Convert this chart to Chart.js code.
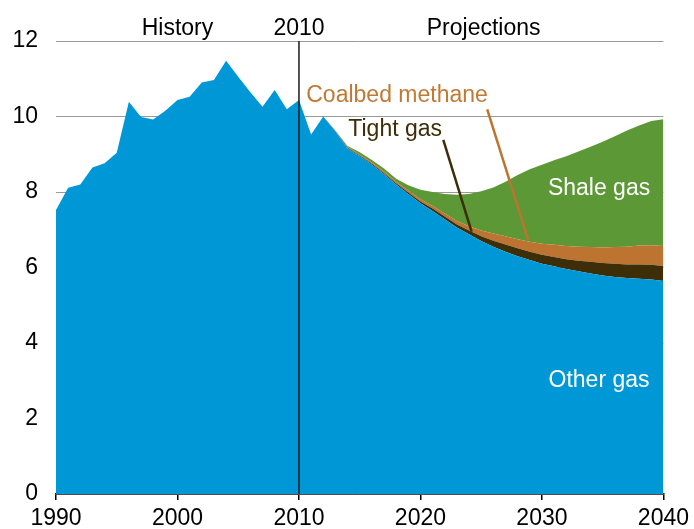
<!DOCTYPE html>
<html>
<head>
<meta charset="utf-8">
<script src="https://cdn.jsdelivr.net/npm/chart.js@4"></script>
<style>
  html, body { margin: 0; padding: 0; background: #fff; }
  #wrap { width: 694px; height: 529px; }
</style>
</head>
<body>
<div id="wrap"><canvas id="gasChart"></canvas></div>
<script>
// History 1990-2010
const historyYears = [1990, 1991, 1992, 1993, 1994, 1995, 1996, 1997, 1998, 1999, 2000,
    2001, 2002, 2003, 2004, 2005, 2006, 2007, 2008, 2009, 2010];
const historyGas = [7.52, 8.11, 8.2, 8.65, 8.76, 9.04, 10.39, 9.99, 9.92, 10.15, 10.44,
    10.52, 10.9, 10.97, 11.48, 11.05, 10.64, 10.26, 10.7, 10.19, 10.44];

// Projections 2011-2040
const projYears = [2011, 2012, 2013, 2014, 2015, 2016, 2017, 2018, 2019, 2020,
    2021, 2022, 2023, 2024, 2025, 2026, 2027, 2028, 2029, 2030,
    2031, 2032, 2033, 2034, 2035, 2036, 2037, 2038, 2039, 2040];
const otherGas = [9.52, 10.0, 9.6, 9.15, 8.95, 8.72, 8.47, 8.2, 7.95, 7.7,
    7.5, 7.28, 7.06, 6.88, 6.7, 6.55, 6.42, 6.3, 6.2, 6.1,
    6.03, 5.96, 5.9, 5.84, 5.79, 5.75, 5.72, 5.7, 5.68, 5.64];
const tightGas = [0, 0, 0.01, 0.02, 0.02, 0.03, 0.03, 0.03, 0.04, 0.05,
    0.06, 0.07, 0.08, 0.1, 0.13, 0.16, 0.19, 0.21, 0.22, 0.24,
    0.25, 0.26, 0.28, 0.31, 0.33, 0.35, 0.36, 0.38, 0.39, 0.4];
const coalbedMethane = [0, 0, 0.01, 0.02, 0.02, 0.03, 0.04, 0.04, 0.05, 0.06,
    0.07, 0.08, 0.09, 0.11, 0.15, 0.19, 0.22, 0.24, 0.26, 0.29,
    0.32, 0.35, 0.37, 0.39, 0.41, 0.44, 0.47, 0.5, 0.52, 0.53];
const shaleGas = [0, 0, 0.01, 0.03, 0.06, 0.07, 0.08, 0.08, 0.14, 0.25,
    0.37, 0.52, 0.7, 0.86, 1.04, 1.22, 1.44, 1.7, 1.92, 2.09,
    2.24, 2.38, 2.52, 2.66, 2.8, 2.94, 3.08, 3.18, 3.29, 3.36];

const yTicks = [0, 2, 4, 6, 8, 10, 12];
const xTicks = [1990, 2000, 2010, 2020, 2030, 2040];

const FONT = 'Liberation Sans, Arial, sans-serif';
const FONT_SIZE = 23;

function points(xs, ys) {
    return xs.map((x, i) => ({ x: x, y: ys[i] }));
}

const otherGasData = points(historyYears.concat(projYears), historyGas.concat(otherGas));

function areaSet(label, data, color, fill) {
    return {
        label: label,
        data: data,
        backgroundColor: color,
        borderWidth: 0,
        pointRadius: 0,
        tension: 0,
        fill: fill
    };
}

// Annotations drawn through the scales
const overlayPlugin = {
    id: 'overlay',
    afterDatasetsDraw(chart) {
        const ctx = chart.ctx;
        const xs = chart.scales.x;
        const ys = chart.scales.y;
        const area = chart.chartArea;
        ctx.save();

        // 2010 divider
        ctx.strokeStyle = '#1a1a1a';
        ctx.lineWidth = 1.5;
        ctx.beginPath();
        ctx.moveTo(xs.getPixelForValue(2010), ys.getPixelForValue(12));
        ctx.lineTo(xs.getPixelForValue(2010), ys.getPixelForValue(0));
        ctx.stroke();

        // leader lines
        ctx.lineWidth = 2.5;
        ctx.strokeStyle = '#BD7430';
        ctx.beginPath();
        ctx.moveTo(xs.getPixelForValue(2025.5), ys.getPixelForValue(10.19));
        ctx.lineTo(xs.getPixelForValue(2028.86), ys.getPixelForValue(6.73));
        ctx.stroke();

        ctx.strokeStyle = '#3D2E08';
        ctx.beginPath();
        ctx.moveTo(xs.getPixelForValue(2021.88), ys.getPixelForValue(9.38));
        ctx.lineTo(xs.getPixelForValue(2024.21), ys.getPixelForValue(6.95));
        ctx.stroke();

        ctx.font = FONT_SIZE + 'px ' + FONT;
        ctx.textBaseline = 'middle';

        // headers above the plot
        ctx.fillStyle = '#000';
        ctx.textAlign = 'center';
        const headY = area.top - 12;
        ctx.fillText('History', xs.getPixelForValue(2000), headY);
        ctx.fillText('2010', xs.getPixelForValue(2010), headY);
        ctx.fillText('Projections', xs.getPixelForValue(2025.2), headY);

        // series labels
        ctx.textAlign = 'left';
        ctx.fillStyle = '#C07A35';
        ctx.fillText('Coalbed methane', xs.getPixelForValue(2010.6), ys.getPixelForValue(10.54));
        ctx.fillStyle = '#3D2E08';
        ctx.fillText('Tight gas', xs.getPixelForValue(2014.06), ys.getPixelForValue(9.64));

        ctx.textAlign = 'center';
        ctx.fillStyle = '#fff';
        ctx.fillText('Shale gas', xs.getPixelForValue(2034.7), ys.getPixelForValue(8.08));
        ctx.fillText('Other gas', xs.getPixelForValue(2034.7), ys.getPixelForValue(2.99));

        ctx.restore();
    }
};

new Chart(document.getElementById('gasChart'), {
    type: 'line',
    data: {
        datasets: [
            areaSet('Other gas', otherGasData, '#0097D7', 'origin'),
            areaSet('Tight gas', points(projYears, tightGas), '#3D2E08', '-1'),
            areaSet('Coalbed methane', points(projYears, coalbedMethane), '#BD7430', '-1'),
            areaSet('Shale gas', points(projYears, shaleGas), '#5C9835', '-1')
        ]
    },
    options: {
        responsive: true,
        maintainAspectRatio: false,
        animation: false,
        layout: {
            padding: { top: 41, right: 29, left: 0, bottom: 0 }
        },
        plugins: {
            legend: { display: false },
            tooltip: { enabled: false }
        },
        scales: {
            x: {
                type: 'linear',
                min: 1990,
                max: 2040,
                afterBuildTicks: (scale) => {
                    scale.ticks = xTicks.map(v => ({ value: v }));
                },
                afterFit: (scale) => { scale.height = 35; },
                border: { display: true, color: '#000', width: 1.5 },
                grid: {
                    drawOnChartArea: false,
                    drawTicks: true,
                    tickLength: 6,
                    color: '#000',
                    lineWidth: 1.5
                },
                ticks: {
                    color: '#000',
                    padding: 5,
                    maxRotation: 0,
                    font: { family: FONT, size: FONT_SIZE },
                    callback: (v) => String(v)
                }
            },
            y: {
                stacked: true,
                min: 0,
                max: 12,
                afterBuildTicks: (scale) => {
                    scale.ticks = yTicks.map(v => ({ value: v }));
                },
                afterFit: (scale) => { scale.width = 56; },
                border: { display: false },
                grid: {
                    color: '#9a9a9a',
                    lineWidth: 1,
                    drawTicks: false
                },
                ticks: {
                    color: '#000',
                    padding: 18,
                    font: { family: FONT, size: FONT_SIZE }
                }
            }
        }
    },
    plugins: [overlayPlugin]
});
</script>
</body>
</html>
